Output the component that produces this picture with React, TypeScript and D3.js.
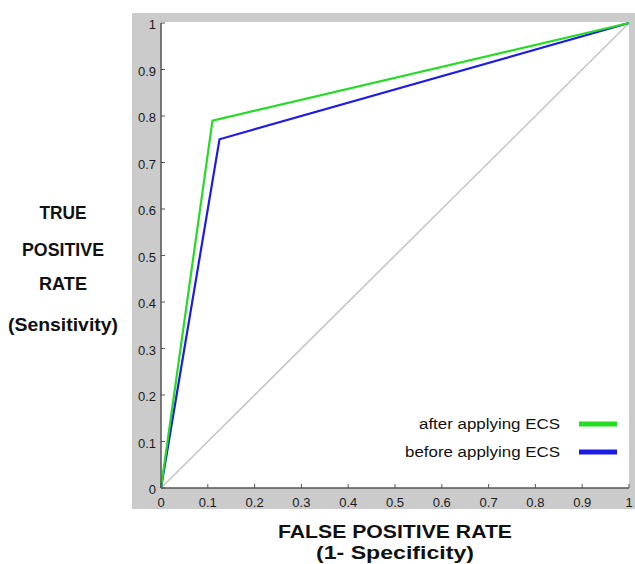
import React from "react";
import * as d3 from "d3";

// ROC curve points (false positive rate, true positive rate)
const fprAfter = [0, 0.11, 1];
const tprAfter = [0, 0.79, 1];
const fprBefore = [0, 0.125, 1];
const tprBefore = [0, 0.75, 1];
const chanceLine = [0, 1];

const xTicks = [0, 0.1, 0.2, 0.3, 0.4, 0.5, 0.6, 0.7, 0.8, 0.9, 1];
const yTicks = [0, 0.1, 0.2, 0.3, 0.4, 0.5, 0.6, 0.7, 0.8, 0.9, 1];
const seriesNames = ["after applying ECS", "before applying ECS"];
const yLabelLines = ["TRUE", "POSITIVE", "RATE", "(Sensitivity)"];
const xLabelLines = ["FALSE POSITIVE RATE", "(1- Specificity)"];

const W = 635;
const H = 564;
const FONT = "Liberation Sans, Arial, Helvetica, sans-serif";

const App = () => {
  const x = d3.scaleLinear().domain([0, 1]).range([161, 629]);
  const y = d3.scaleLinear().domain([0, 1]).range([488, 23]);

  const line = d3
    .line<[number, number]>()
    .x((d) => x(d[0]))
    .y((d) => y(d[1]));

  const after = fprAfter.map((v, i) => [v, tprAfter[i]] as [number, number]);
  const before = fprBefore.map((v, i) => [v, tprBefore[i]] as [number, number]);
  const diag = chanceLine.map((v) => [v, v] as [number, number]);

  const colors = ["#22dd22", "#1c1ce6"];
  const legendY = [424, 452];
  const legendTextW = [141, 155];
  const yLabelY = [213, 250, 284, 325];
  const yLabelW = [47, 82, 48, 110];
  const xLabelW = [234, 158];

  return (
    <svg
      width={W}
      height={H}
      style={{ position: "absolute", left: 0, top: 0, background: "#fff" }}
      fontFamily={FONT}
    >
      {/* gray figure frame */}
      <rect x={132} y={13} width={W - 132} height={509 - 13} fill="#cbcbcb" />
      <rect x={x(0)} y={y(1) - 1} width={x(1) - x(0)} height={y(0) - y(1) + 1} fill="#fff" />

      {/* diagonal chance line */}
      <path d={line(diag) || ""} fill="none" stroke="#c4c4c4" strokeWidth={1.5} />
      <path d={line(before) || ""} fill="none" stroke={colors[1]} strokeWidth={2.2} />
      <path d={line(after) || ""} fill="none" stroke={colors[0]} strokeWidth={2.2} />

      {/* axes */}
      <line x1={x(0)} x2={x(1)} y1={y(0)} y2={y(0)} stroke="#555" strokeWidth={1.5} />
      <line x1={x(0)} x2={x(0)} y1={y(0)} y2={y(1)} stroke="#555" strokeWidth={1.5} />

      {xTicks.map((t) => (
        <g key={"x" + t}>
          <line x1={x(t)} x2={x(t)} y1={y(0)} y2={y(0) - 4} stroke="#555" strokeWidth={1} />
          <text x={x(t)} y={y(0) + 19} textAnchor="middle" fontSize={13} fill="#1a1a1a">
            {t}
          </text>
        </g>
      ))}
      {yTicks.map((t) => (
        <g key={"y" + t}>
          <line x1={x(0)} x2={x(0) + 4} y1={y(t)} y2={y(t)} stroke="#555" strokeWidth={1} />
          <text x={x(0) - 5} y={y(t) + 6} textAnchor="end" fontSize={13} fill="#1a1a1a">
            {t}
          </text>
        </g>
      ))}

      {/* legend */}
      {seriesNames.map((name, i) => (
        <g key={name}>
          <text
            x={560}
            y={legendY[i] + 5}
            textAnchor="end"
            fontSize={14}
            fill="#111"
            textLength={legendTextW[i]}
            lengthAdjust="spacingAndGlyphs"
          >
            {name}
          </text>
          <line x1={579} x2={617} y1={legendY[i]} y2={legendY[i]} stroke={colors[i]} strokeWidth={5} />
        </g>
      ))}

      {/* axis titles */}
      {yLabelLines.map((s, i) => (
        <text
          key={s}
          x={63}
          y={yLabelY[i] + 6}
          textAnchor="middle"
          fontSize={18}
          fontWeight="bold"
          fill="#111"
          textLength={yLabelW[i]}
          lengthAdjust="spacingAndGlyphs"
        >
          {s}
        </text>
      ))}
      {xLabelLines.map((s, i) => (
        <text
          key={s}
          x={(x(0) + x(1)) / 2}
          y={538 + i * 21}
          textAnchor="middle"
          fontSize={18}
          fontWeight="bold"
          fill="#111"
          textLength={xLabelW[i]}
          lengthAdjust="spacingAndGlyphs"
        >
          {s}
        </text>
      ))}
    </svg>
  );
};

export default App;
